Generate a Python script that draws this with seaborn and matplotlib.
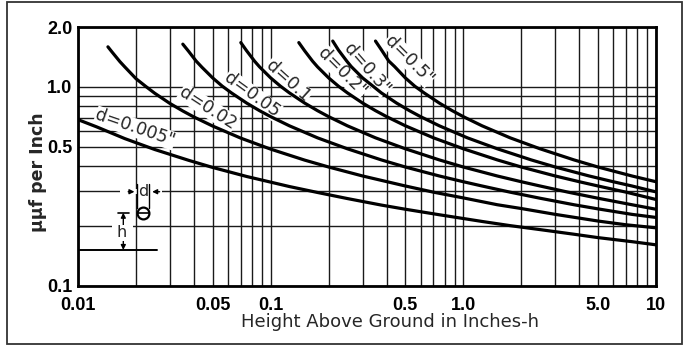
import matplotlib
matplotlib.use("Agg")
import matplotlib.pyplot as plt
import matplotlib.ticker as mticker
from matplotlib.patches import Rectangle
import pandas as pd
import seaborn as sns

# readings taken off the chart: height above ground h (inches) -> uuf per inch
h_d0005 = [0.01, 0.0125, 0.0175, 0.025, 0.0375, 0.05, 0.075, 0.125, 0.175, 0.25,
           0.375, 0.5, 0.75, 1.25, 1.75, 2.5, 3.75, 5, 7.5, 10]
c_d0005 = [0.685, 0.63, 0.55, 0.485, 0.428, 0.394, 0.355, 0.316, 0.295, 0.275,
           0.255, 0.243, 0.228, 0.211, 0.201, 0.192, 0.182, 0.175, 0.167, 0.161]

h_d002 = [0.0143, 0.015, 0.0165, 0.0175, 0.02, 0.0225, 0.025, 0.03, 0.035, 0.04, 0.05,
          0.07, 0.1, 0.15, 0.2, 0.3, 0.5, 0.7, 1, 1.5, 2, 3, 5, 7, 10]
c_d002 = [1.59, 1.50, 1.34, 1.26, 1.10, 1.005, 0.93, 0.826, 0.757, 0.706, 0.636,
          0.553, 0.487, 0.429, 0.396, 0.357, 0.318, 0.296, 0.277, 0.256, 0.245, 0.229,
          0.212, 0.203, 0.196]

h_d005 = [0.035, 0.0375, 0.041, 0.044, 0.05, 0.056, 0.0625, 0.075, 0.0875, 0.1, 0.125,
          0.175, 0.25, 0.375, 0.5, 0.75, 1, 1.25, 1.75, 2.5, 3.75, 5, 7.5, 10]
c_d005 = [1.64, 1.51, 1.35, 1.255, 1.11, 1.01, 0.934, 0.83, 0.76, 0.709, 0.638,
          0.555, 0.489, 0.430, 0.396, 0.357, 0.334, 0.318, 0.296, 0.276, 0.256, 0.244,
          0.229, 0.221]

h_d01 = [0.07, 0.075, 0.0825, 0.0875, 0.1, 0.1125, 0.125, 0.15, 0.175, 0.2, 0.25,
         0.35, 0.5, 0.75, 1, 1.5, 2, 2.5, 3.5, 5, 7.5, 10]
c_d01 = [1.67, 1.52, 1.347, 1.262, 1.11, 1.008, 0.934, 0.83, 0.76, 0.709, 0.638,
         0.555, 0.489, 0.430, 0.396, 0.357, 0.334, 0.318, 0.296, 0.276, 0.256, 0.243]

h_d02 = [0.14, 0.15, 0.165, 0.175, 0.2, 0.225, 0.25, 0.3, 0.35, 0.4, 0.5, 0.7, 1, 1.5,
         2, 3, 4, 5, 7, 10]
c_d02 = [1.67, 1.52, 1.347, 1.262, 1.11, 1.008, 0.934, 0.83, 0.76, 0.709, 0.638, 0.555,
         0.489, 0.430, 0.396, 0.357, 0.334, 0.318, 0.296, 0.272]

h_d03 = [0.21, 0.225, 0.248, 0.262, 0.3, 0.34, 0.375, 0.45, 0.525, 0.6, 0.75, 1.05,
         1.5, 2.25, 3, 4.5, 6, 7.5, 10]
c_d03 = [1.70, 1.53, 1.35, 1.265, 1.11, 1.008, 0.934, 0.83, 0.76, 0.709, 0.638, 0.555,
         0.489, 0.430, 0.396, 0.357, 0.334, 0.318, 0.297]

h_d05 = [0.35, 0.375, 0.41, 0.44, 0.5, 0.56, 0.625, 0.75, 0.875, 1, 1.25, 1.75, 2.5,
         3.75, 5, 7.5, 10]
c_d05 = [1.70, 1.54, 1.35, 1.265, 1.11, 1.008, 0.934, 0.83, 0.76, 0.709, 0.638, 0.555,
         0.489, 0.430, 0.396, 0.357, 0.334]

curve_names = ['d=0.005"', "d=0.02", "d=0.05", "d=0.1", 'd=0.2"', 'd=0.3"', 'd=0.5"']
x_ticks = [0.01, 0.05, 0.1, 0.5, 1, 5, 10]
x_labels = ["0.01", "0.05", "0.1", "0.5", "1.0", "5.0", "10"]
y_ticks = [0.1, 0.5, 1.0, 2.0]
y_labels = ["0.1", "0.5", "1.0", "2.0"]

curves = [(curve_names[0], h_d0005, c_d0005), (curve_names[1], h_d002, c_d002),
          (curve_names[2], h_d005, c_d005), (curve_names[3], h_d01, c_d01),
          (curve_names[4], h_d02, c_d02), (curve_names[5], h_d03, c_d03),
          (curve_names[6], h_d05, c_d05)]
rows = []
for name, hs, cs in curves:
    for h, c in zip(hs, cs):
        rows.append({"d": name, "h": h, "c": c})
df = pd.DataFrame(rows)

sns.set_theme(style="white")
plt.rcParams["font.family"] = ["DejaVu Sans"]

W, H = 687, 347
fig = plt.figure(figsize=(W / 100, H / 100), dpi=100)
fig.patch.set_facecolor("white")
ax = fig.add_axes([78 / W, 1 - 286 / H, 578 / W, 259 / H])
ax.set_xscale("log")
ax.set_yscale("log")

sns.lineplot(data=df, x="h", y="c", hue="d", palette=["black"] * 7, estimator=None,
             sort=False, legend=False, lw=2.3, ax=ax, zorder=3)

ax.set_xlim(0.01, 10)
ax.set_ylim(0.1, 2.0)
ax.xaxis.set_major_locator(mticker.FixedLocator(x_ticks))
ax.xaxis.set_minor_locator(mticker.LogLocator(base=10, subs=(2, 3, 4, 6, 7, 8, 9)))
ax.yaxis.set_major_locator(mticker.FixedLocator(y_ticks))
ax.yaxis.set_minor_locator(mticker.LogLocator(base=10, subs=(2, 3, 4, 6, 7, 8, 9)))
ax.xaxis.set_minor_formatter(mticker.NullFormatter())
ax.yaxis.set_minor_formatter(mticker.NullFormatter())
ax.set_xticklabels(x_labels)
ax.set_yticklabels(y_labels)
ax.set_xlabel("")
ax.set_ylabel("")
ax.grid(True, which="both", color="#1a1a1a", lw=1.0)
ax.tick_params(which="both", length=0)
ax.tick_params(axis="x", pad=8)
ax.tick_params(axis="y", pad=4)
for lab in ax.get_xticklabels() + ax.get_yticklabels():
    lab.set_family(["Liberation Sans Narrow", "Liberation Sans", "DejaVu Sans"])
    lab.set_fontweight("bold")
    lab.set_fontsize(13)
    lab.set_color("black")
for sp in ax.spines.values():
    sp.set_visible(True)
    sp.set_color("black")
    sp.set_linewidth(2.0)

# curve labels, written along each curve
label_pos = [(0.099, 0.610, -19), (0.225, 0.687, -33), (0.301, 0.737, -36),
             (0.363, 0.792, -42), (0.457, 0.826, -45), (0.500, 0.838, -49),
             (0.573, 0.873, -45)]
for name, (fx, fy, rot) in zip(curve_names, label_pos):
    ax.text(fx, fy, name, transform=ax.transAxes, rotation=rot, fontsize=12.5,
            ha="center", va="center", rotation_mode="anchor", zorder=2.5,
            bbox=dict(fc="white", ec="none", pad=0.3))

# little sketch of the wire over ground
tr = ax.transAxes
ax.add_patch(Rectangle((0.073, 0.355), 0.072, 0.018, transform=tr, fc="white", ec="none", zorder=1))
ax.add_patch(Rectangle((0.059, 0.220), 0.036, 0.018, transform=tr, fc="white", ec="none", zorder=1))
ax.text(0.113, 0.366, "d", transform=tr, fontsize=11.5, ha="center", va="center", zorder=4)
ax.annotate("", xy=(0.1025, 0.364), xytext=(0.082, 0.364), xycoords=tr,
            arrowprops=dict(arrowstyle="-|>", lw=1.0, color="black", mutation_scale=7), zorder=4)
ax.annotate("", xy=(0.1235, 0.364), xytext=(0.146, 0.364), xycoords=tr,
            arrowprops=dict(arrowstyle="-|>", lw=1.0, color="black", mutation_scale=7), zorder=4)
for fx in (0.1025, 0.1235):
    ax.plot([fx, fx], [0.30, 0.392], transform=tr, color="black", lw=1.0, zorder=4)
ax.plot([0.113], [0.283], transform=tr, marker="o", ms=8.5, mfc="white", mec="black",
        mew=1.6, zorder=5)
ax.plot([0.104, 0.122], [0.283, 0.283], transform=tr, color="black", lw=1.2, zorder=6)
ax.plot([0.069, 0.088], [0.283, 0.283], transform=tr, color="black", lw=1.2, zorder=4)
ax.annotate("", xy=(0.0784, 0.283), xytext=(0.0784, 0.139), xycoords=tr,
            arrowprops=dict(arrowstyle="<|-|>", lw=1.0, color="black", mutation_scale=7,
                            shrinkA=0, shrinkB=0), zorder=4)
ax.text(0.0756, 0.205, "h", transform=tr, fontsize=11.5, ha="center", va="center", zorder=5,
        bbox=dict(fc="white", ec="none", pad=0.5))
ax.plot([0.0, 0.137], [0.139, 0.139], transform=tr, color="black", lw=1.4, zorder=4)

fig.text(38 / W, 1 - 172 / H, "μμf per Inch", rotation=90, fontsize=12.5, fontweight="bold",
         ha="center", va="center")
fig.text(390 / W, 1 - 322 / H, "Height Above Ground in Inches-h", fontsize=13,
         ha="center", va="center")

fig.add_artist(Rectangle((7 / W, 3 / H), 675 / W, 342 / H, transform=fig.transFigure,
                         fill=False, lw=1.3, ec="#333333"))

fig.savefig("out.png", dpi=100)
